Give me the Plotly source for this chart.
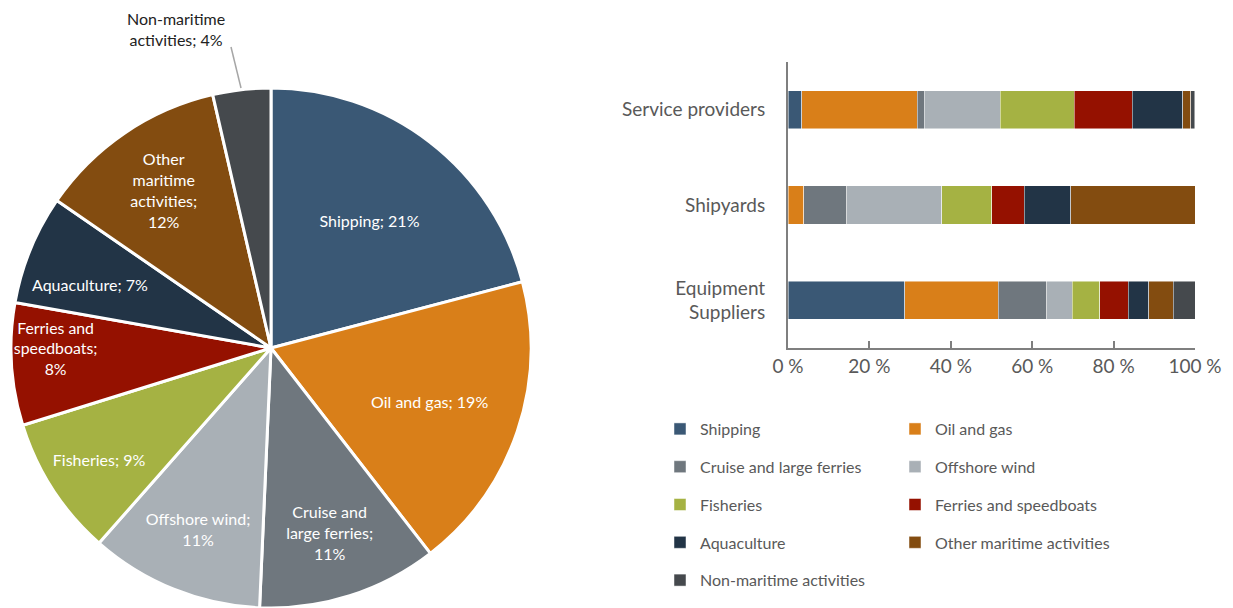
import plotly.graph_objects as go

# ---------------- data ----------------
sectors = ["Shipping", "Oil and gas", "Cruise and large ferries", "Offshore wind",
           "Fisheries", "Ferries and speedboats", "Aquaculture",
           "Other maritime activities", "Non-maritime activities"]
colors = ["#3A5875", "#D97F19", "#6F777E", "#A9B0B6", "#A5B243",
          "#951100", "#223446", "#834C10", "#45494D"]

pie_values = [20.9, 18.6, 11.2, 10.8, 8.7, 7.6, 6.8, 11.8, 3.6]
pie_text = ["Shipping; ", "Oil and gas; ", "Cruise and<br>large ferries;<br>",
            "Offshore wind;<br>", "Fisheries; ", "Ferries and<br>speedboats;<br>",
            "", "Other<br>maritime<br>activities;<br>", ""]
pie_textpos = ["inside"] * 6 + ["none", "inside", "none"]

groups = ["Service providers", "Shipyards", "Equipment<br>Suppliers"]
# shares (%) per sector for each group: [Service providers, Shipyards, Equipment Suppliers]
bar_values = {
    "Shipping":                   [3.4, 0.0, 28.7],
    "Oil and gas":                [28.3, 3.9, 22.9],
    "Cruise and large ferries":   [1.8, 10.5, 12.0],
    "Offshore wind":              [18.7, 23.4, 6.2],
    "Fisheries":                  [18.1, 12.2, 6.8],
    "Ferries and speedboats":     [14.3, 8.0, 7.0],
    "Aquaculture":                [12.4, 11.5, 5.0],
    "Other maritime activities":  [2.0, 30.5, 6.1],
    "Non-maritime activities":    [0.9, 0.0, 5.3],
}
x_ticks = [0, 20, 40, 60, 80, 100]
x_ticktext = [f"{v} %" for v in x_ticks]

FONT = "Lato"
GREY = "#595959"
W, H = 1233, 608

fig = go.Figure()

# ---------------- pie ----------------
fig.add_trace(go.Pie(
    labels=sectors, values=pie_values, text=pie_text,
    texttemplate="%{text}%{percent:.0%}",
    textposition=pie_textpos,
    insidetextorientation="horizontal",
    insidetextfont=dict(family=FONT, size=16, color="white"),
    marker=dict(colors=colors, line=dict(color="white", width=3)),
    sort=False, direction="clockwise", rotation=0,
    showlegend=False, hoverinfo="label+percent", automargin=False,
    domain=dict(x=[11 / W, 531 / W], y=[0, 520 / H]),
))

# label for the Aquaculture slice (too narrow for plotly's auto-fit)
fig.add_annotation(x=90 / W, y=1 - 284 / H, xref="paper", yref="paper",
                   xanchor="center", yanchor="middle",
                   text="Aquaculture; 7%", showarrow=False,
                   font=dict(family=FONT, size=16, color="white"))
# label for the small slice with leader line
fig.add_annotation(x=176 / W, y=1 - 29 / H, xref="paper", yref="paper",
                   xanchor="center", yanchor="middle",
                   text="Non-maritime<br>activities; 4%", showarrow=False,
                   font=dict(family=FONT, size=16, color="#222222"))
fig.add_shape(type="line", xref="paper", yref="paper",
              x0=231 / W, y0=1 - 47 / H, x1=241 / W, y1=1 - 88 / H,
              line=dict(color="#A6A6A6", width=1.5))

# ---------------- stacked bars ----------------
col1 = {"Shipping", "Cruise and large ferries", "Fisheries", "Aquaculture",
        "Non-maritime activities"}
for name, col in zip(sectors, colors):
    fig.add_trace(go.Bar(
        y=groups, x=bar_values[name], orientation="h", name=name,
        marker=dict(color=col, line=dict(color="rgba(255,255,255,0.6)", width=0.8)),
        legend="legend" if name in col1 else "legend2",
        legendgroup=name,
        xaxis="x", yaxis="y",
    ))

fig.update_layout(
    width=W, height=H,
    margin=dict(l=0, r=0, t=0, b=0, autoexpand=False),
    paper_bgcolor="white", plot_bgcolor="white",
    font=dict(family=FONT, color=GREY),
    barmode="stack", bargap=0.6,
    xaxis=dict(domain=[788 / W, 1195 / W], range=[0, 100], tickvals=x_ticks,
               ticktext=x_ticktext, automargin=False,
               showgrid=False, zeroline=False,
               showline=True, linecolor="#7F7F7F", linewidth=2,
               ticks="inside", ticklen=7, tickcolor="#7F7F7F", tickwidth=1.5,
               tickfont=dict(family=FONT, size=19, color=GREY), fixedrange=True),
    yaxis=dict(domain=[260 / H, 546 / H], categoryorder="array",
               categoryarray=groups[::-1], showgrid=False, zeroline=False,
               showline=True, linecolor="#7F7F7F", linewidth=2, ticks="",
               ticklabelstandoff=17, automargin=False,
               tickfont=dict(family=FONT, size=19, color=GREY), fixedrange=True),
    legend=dict(x=660 / W, y=1 - 412 / H, xanchor="left", yanchor="top",
                orientation="v", tracegroupgap=14, bgcolor="rgba(0,0,0,0)",
                font=dict(family=FONT, size=16, color=GREY)),
    legend2=dict(x=895 / W, y=1 - 412 / H, xanchor="left", yanchor="top",
                 orientation="v", tracegroupgap=14, bgcolor="rgba(0,0,0,0)",
                 font=dict(family=FONT, size=16, color=GREY)),
)

fig.write_html("out.html")
